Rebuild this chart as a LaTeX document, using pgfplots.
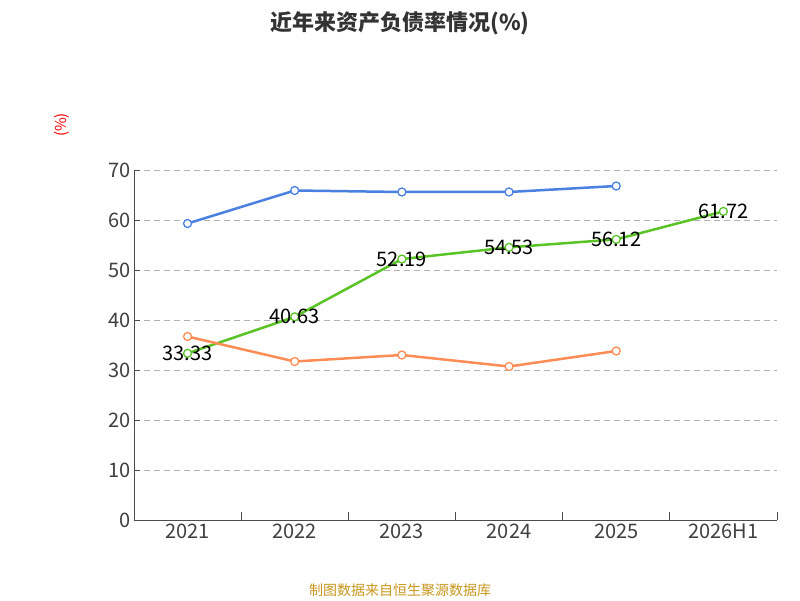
\documentclass[border=0pt]{standalone}
\usepackage{pgfplots}
\pgfplotsset{compat=1.18}
\usepackage{fontspec}
\setmainfont{Noto Sans CJK SC}
\definecolor{cg}{HTML}{5AC427}
\definecolor{cb}{HTML}{4A80E0}
\definecolor{co}{HTML}{FF8C55}
\definecolor{ft}{HTML}{C8961E}
\begin{document}
\begin{tikzpicture}[x=1pt,y=1pt]
\path[use as bounding box] (0,0) rectangle (800,600);
\node[font=\fontsize{22}{24}\selectfont\bfseries,text=black!80] at (400,577) {近年来资产负债率情况(\%)};
\node[font=\fontsize{14}{16}\selectfont,text=ft] at (400,10) {制图数据来自恒生聚源数据库};
\node[font=\fontsize{15}{16}\selectfont,text=red,rotate=90] at (62,475) {(\%)};
\begin{axis}[at={(125,160)},anchor=south west,scale only axis,width=643,height=350,
 xmin=-0.5,xmax=5.5,ymin=0,ymax=70,ytick={0,10,...,70},
 xtick={0,...,5},xticklabels={2021,2022,2023,2024,2025,2026H1},
 minor xtick={-0.5,0.5,...,5.5},
 major x tick style={draw=none},
 minor tick length=8pt, major tick length=6pt,
 tick style={black!70,line width=0.8pt},
 xtick pos=bottom, ytick pos=left,
 axis y line*=left, axis x line*=bottom,
 axis line style={black!70,line width=0.8pt,-},
 ymajorgrids, grid style={dash pattern=on 6pt off 4pt,gray!60,line width=0.8pt},
 tick label style={font=\fontsize{20}{22}\selectfont,text=black!75},
 /pgf/number format/assume math mode=true,
 legend columns=3,
 legend style={at={(0.428,-0.277)},anchor=center,draw=none,font=\fontsize{19}{21}\selectfont,text=black!80,column sep=8pt},
 legend image code/.code={\draw[#1,line width=2pt] (-0.45cm,0)--(0.45cm,0); \draw[#1,fill=white,line width=1.5pt] (0,0) circle (8pt);},
 every axis plot/.append style={line width=2.5pt,mark=*,mark size=4pt,mark options={fill=white,line width=1.3pt}},
]
\addplot[cg,nodes near coords,point meta=explicit symbolic,every node near coord/.style={anchor=center,font=\fontsize{20}{22}\selectfont,text=black}] coordinates {(0,33.33)[33.33] (1,40.63)[40.63] (2,52.19)[52.19] (3,54.53)[54.53] (4,56.12)[56.12] (5,61.72)[61.72]};
\addlegendentry{公司资产负债率}
\addplot[cb] coordinates {(0,59.3)(1,65.9)(2,65.6)(3,65.6)(4,66.8)};
\addlegendentry{行业均值}
\addplot[co] coordinates {(0,36.7)(1,31.7)(2,33.0)(3,30.7)(4,33.8)};
\addlegendentry{行业中位数}
\end{axis}
\end{tikzpicture}
\end{document}
